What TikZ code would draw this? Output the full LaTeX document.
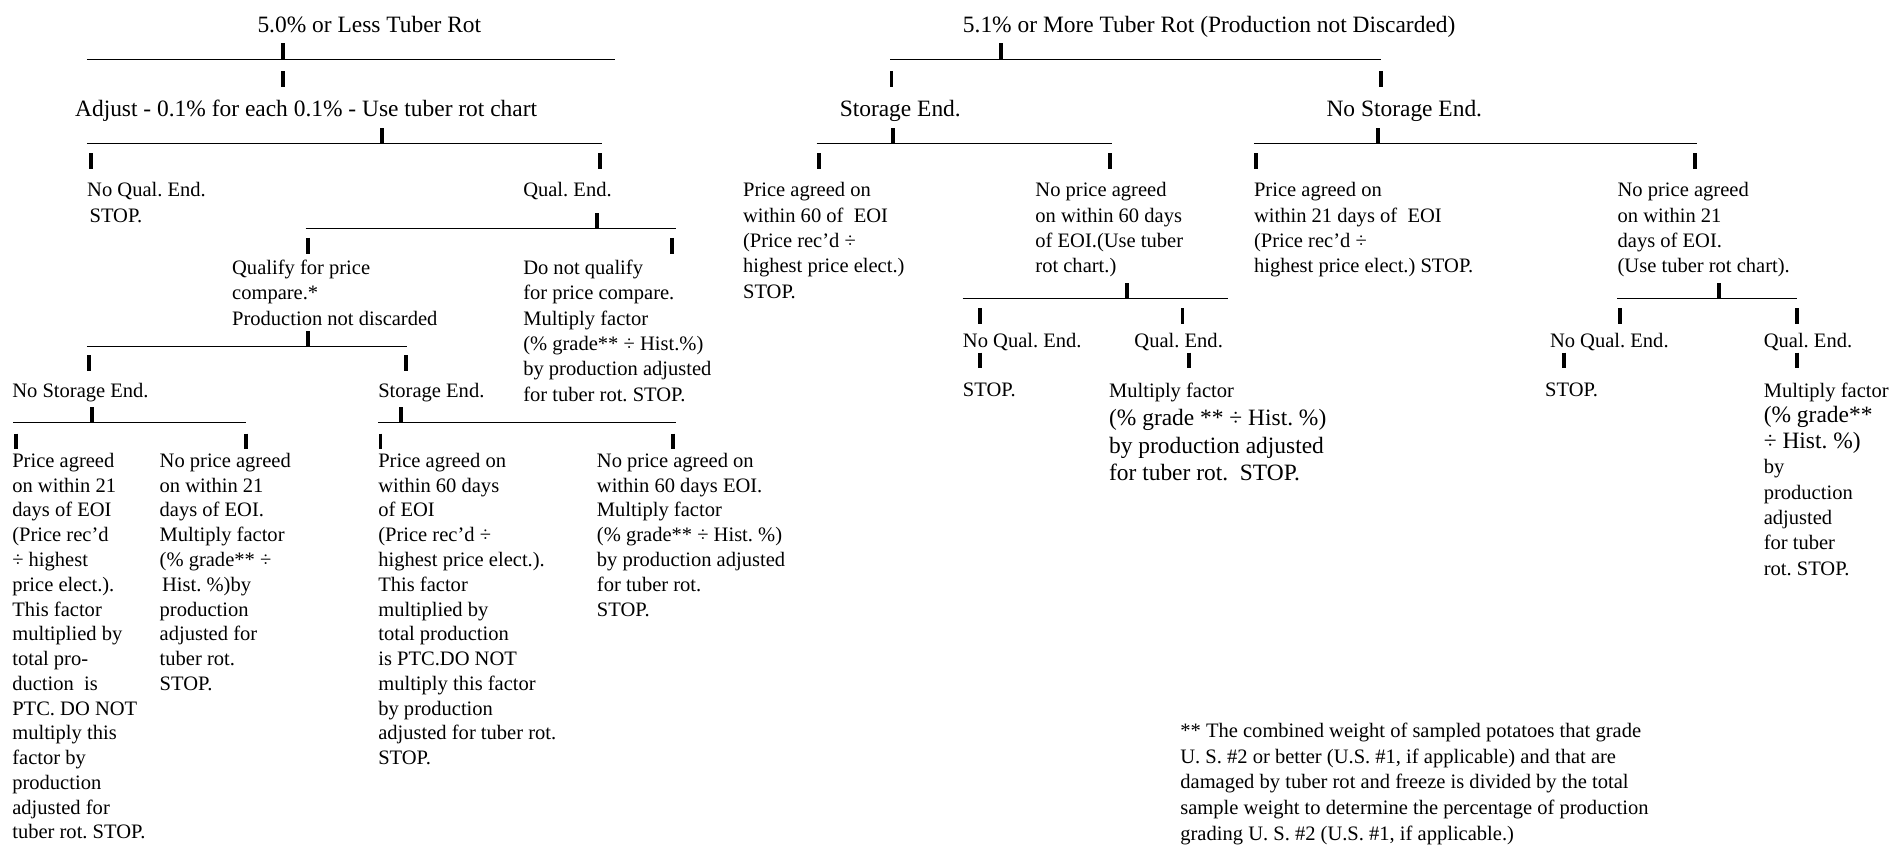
\documentclass[tikz,border=0pt]{standalone}
\usepackage{fontspec}
\setmainfont{Liberation Serif}
\frenchspacing

\newcommand\fsmall{\fontsize{17}{21}\selectfont}
\newcommand\flarge{\fontsize{19.4}{23}\selectfont}

\tikzset{
	txt/.style={anchor=north west, inner sep=0pt, align=left, font=\fsmall},
	big/.style={font=\flarge},
	leaf/.style={font=\fontsize{17}{20.5}\selectfont},
	treeline/.style={line width=0.7pt},
	stubmark/.style={line width=3.2pt}
}

\begin{document}
\begin{tikzpicture}[x=1pt,y=-1pt]

\useasboundingbox (0,0) rectangle (1568,700);
\fill[white] (0,0) rectangle (1568,700);

% Rule macro: name, y, x-left, x-right, x of the bar standing on it
\def\treerule#1#2#3#4#5{
    \coordinate (#1l) at (#3,#2);
    \coordinate (#1r) at (#4,#2);
    \draw[treeline] (#1l) -- (#1r);
    \draw[stubmark] (#5,#2) -- ++(0,-13);
}
% Bar hanging below a rule: x, top y
\def\stubdown#1#2{\draw[stubmark] (#1,#2) -- ++(0,13);}

% ---- 5.0% or less ----
\node[txt,big] (lessrot) at (213,13) {5.0\% or Less Tuber Rot};
\treerule{ra}{49}{72}{509}{234}
\stubdown{234}{59}
\node[txt,big] (adjust) at (62,83) {Adjust - 0.1\% for each 0.1\% - Use tuber rot chart};
\treerule{rb}{119}{72}{498}{316}
\stubdown{75}{127}
\stubdown{497}{127}
\node[txt] (noqual) at (72,151) {No Qual. End.\\\hspace{2pt}STOP.};
\node[txt] (qual) at (433,151) {Qual. End.};
\treerule{rc}{189}{253}{560}{494}
\stubdown{255}{197}
\stubdown{556}{197}
\node[txt] (qualify) at (192,215) {Qualify for price\\compare.*\\Production not discarded};
\node[txt] (noqualify) at (433,215) {Do not qualify\\for price compare.\\Multiply factor\\(\% grade** ÷ Hist.\%)\\by production adjusted\\for tuber rot. STOP.};
\treerule{rd}{287}{72}{337}{255}
\stubdown{74}{294}
\stubdown{336}{294}
\node[txt] (nostor) at (10,317) {No Storage End.};
\node[txt] (stor) at (313,317) {Storage End.};
\treerule{re}{350}{11}{204}{76}
\treerule{rf}{350}{313}{560}{332}
\stubdown{13}{359}
\stubdown{204}{359}
\stubdown{315}{359}
\stubdown{557}{359}

% Leaves
\node[txt,leaf] (nsprice) at (10,375) {Price agreed\\on within 21\\days of EOI\\(Price rec’d\\÷ highest\\price elect.).\\This factor\\multiplied by\\total pro-\\duction\ \ is\\PTC. DO NOT\\multiply this\\factor by\\production\\adjusted for\\tuber rot. STOP.};
\node[txt,leaf] (nsnoprice) at (132,375) {No price agreed\\on within 21\\days of EOI.\\Multiply factor\\(\% grade** ÷\\\hspace{2pt}Hist. \%)by\\production\\adjusted for\\tuber rot.\\STOP.};
\node[txt,leaf] (sprice) at (313,375) {Price agreed on\\within 60 days\\of EOI\\(Price rec’d ÷\\highest price elect.).\\This factor\\multiplied by\\total production\\is PTC.DO NOT\\multiply this factor\\by production\\adjusted for tuber rot.\\STOP.};
\node[txt,leaf] (snoprice) at (494,375) {No price agreed on\\within 60 days EOI.\\Multiply factor\\(\% grade** ÷ Hist. \%)\\by production adjusted\\for tuber rot.\\STOP.};

% ---- 5.1% or more ----
\node[txt,big] (morerot) at (797,13) {5.1\% or More Tuber Rot (Production not Discarded)};
\treerule{rg}{49}{737}{1143}{829}
\stubdown{738}{59}
\stubdown{1143}{59}
\node[txt,big] (storend) at (695,83) {Storage End.};
\node[txt,big] (nostorend) at (1098,83) {No Storage End.};
\treerule{rh}{119}{676}{921}{739}
\treerule{ri}{119}{1038}{1405}{1141}
\stubdown{678}{127}
\stubdown{919}{127}
\stubdown{1040}{127}
\stubdown{1403}{127}

% Storage end
\node[txt] (sprice60) at (615,151) {Price agreed on\\within 60 of\ \ EOI\\(Price rec’d ÷\\highest price elect.)\\STOP.};
\node[txt] (snoprice60) at (857,151) {No price agreed\\on within 60 days\\of EOI.(Use tuber\\rot chart.)};
\treerule{rj}{247}{797}{1017}{933}
\stubdown{811}{255}
\stubdown{979}{255}
\node[txt] (snoqual) at (797,276) {No Qual. End.};
\node[txt] (squal) at (939,276) {Qual. End.};
\stubdown{811}{292}
\stubdown{984}{292}
\node[txt] (sstop) at (797,317) {STOP.};
\node[txt,big] (smult) at (918,317) {{\fsmall Multiply factor}\\(\% grade ** ÷ Hist. \%)\\by production adjusted\\for tuber rot.\ \ STOP.};

% No storage end
\node[txt] (nsprice21) at (1038,151) {Price agreed on\\within 21 days of\ \ EOI\\(Price rec’d ÷\\highest price elect.) STOP.};
\node[txt] (nsnoprice21) at (1339,151) {No price agreed\\on within 21\\days of EOI.\\(Use tuber rot chart).};
\treerule{rk}{247}{1339}{1488}{1423}
\stubdown{1341}{255}
\stubdown{1488}{255}
\node[txt] (nsnoqual) at (1283,276) {No Qual. End.};
\node[txt] (nsqual) at (1460,276) {Qual. End.};
\stubdown{1295}{292}
\stubdown{1488}{292}
\node[txt] (nsstop) at (1279,317) {STOP.};
\node[txt] (nsmult) at (1460,317) {Multiply factor\\{\flarge(\% grade**}\\{\flarge÷ Hist. \%)}\\by\\production\\adjusted\\for tuber\\rot. STOP.};

% Footnote
\node[txt,font=\fontsize{17}{21.5}\selectfont] (footnote) at (977,598) {** The combined weight of sampled potatoes that grade\\U. S. \#2 or better (U.S. \#1, if applicable) and that are\\damaged by tuber rot and freeze is divided by the total\\sample weight to determine the percentage of production\\grading U. S. \#2 (U.S. \#1, if applicable.)};

\end{tikzpicture}
\end{document}
